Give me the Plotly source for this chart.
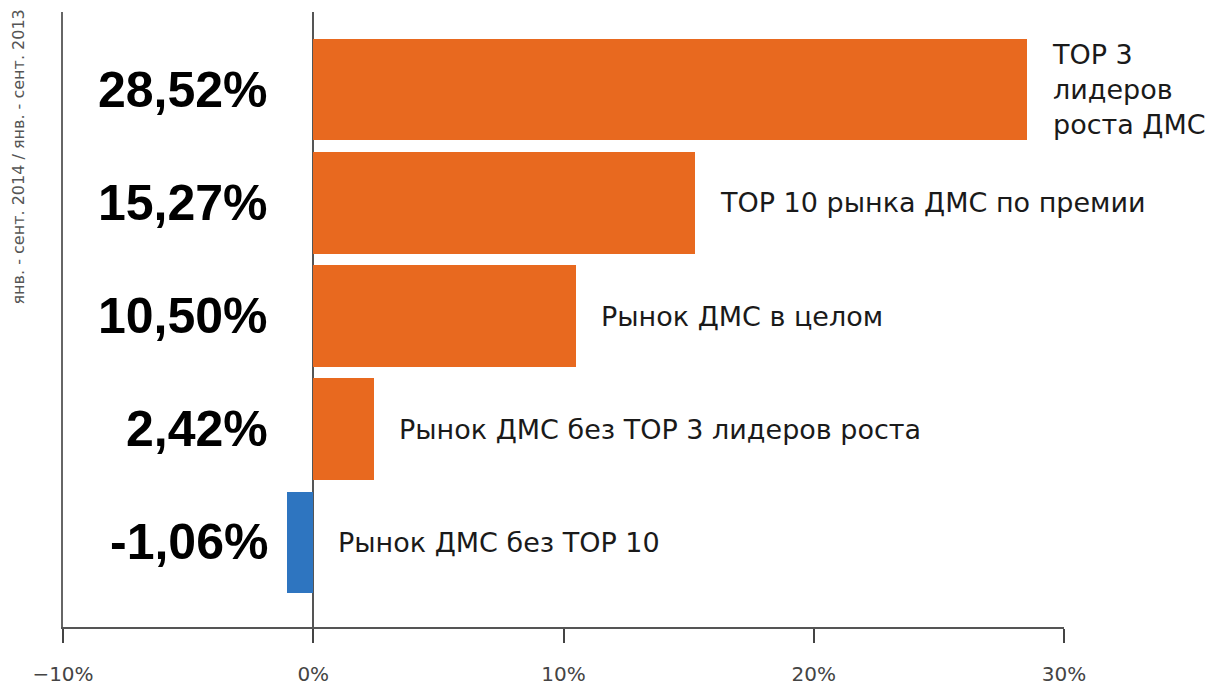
import plotly.graph_objects as go

categories = ["TOP 3<br>лидеров<br>роста ДМС", "ТОР 10 рынка ДМС по премии", "Рынок ДМС в целом",
              "Рынок ДМС без TOP 3 лидеров роста", "Рынок ДМС без TOP 10"]
values = [28.52, 15.27, 10.50, 2.42, -1.06]
value_labels = ["28,52%", "15,27%", "10,50%", "2,42%", "-1,06%"]
tick_vals = [-10, 0, 10, 20, 30]
tick_text = ["\u221210%", "0%", "10%", "20%", "30%"]
y_title = "янв. - сент. 2014 / янв. - сент. 2013"

ORANGE = "#E8691F"
BLUE = "#2E75C0"

n = len(values)
ypos = [n - 1 - i for i in range(n)]
colors = [ORANGE if v >= 0 else BLUE for v in values]

fig = go.Figure()
fig.add_trace(go.Bar(
    x=values, y=ypos, orientation="h", width=0.894,
    marker=dict(color=colors, line=dict(width=0)),
    hoverinfo="skip", showlegend=False,
))

BOLD_FONT = "Liberation Sans, Arial, sans-serif"
WIDE_FONT = "DejaVu Sans, sans-serif"
for yp, v, lab, cat in zip(ypos, values, value_labels, categories):
    fig.add_annotation(x=0, y=yp, xref="x", yref="y", text="<b>" + lab + "</b>", showarrow=False,
                       xanchor="right", xshift=-43,
                       font=dict(family=BOLD_FONT, size=50, color="#000000"))
    fig.add_annotation(x=max(v, 0), y=yp, xref="x", yref="y", text=cat, showarrow=False,
                       xanchor="left", xshift=23, align="left",
                       font=dict(family=WIDE_FONT, size=27, color="#1a1a1a"))

L, R, T, B = 63, 148, 12, 58
W, H = 1212, 685
fig.add_annotation(xref="paper", yref="paper",
                   x=(18 - L) / (W - L - R), y=1 + (T - 8) / (H - T - B),
                   xanchor="center", yanchor="top",
                   text=y_title, showarrow=False, textangle=-90,
                   font=dict(family=WIDE_FONT, size=16, color="#555555"))

fig.update_layout(
    width=W, height=H,
    margin=dict(l=L, r=R, t=T, b=B),
    paper_bgcolor="white", plot_bgcolor="white",
    bargap=0,
)
fig.update_xaxes(
    range=[-10, 30], tickvals=tick_vals, ticktext=tick_text, automargin=False,
    showgrid=False, zeroline=True, zerolinecolor="#555555", zerolinewidth=2,
    showline=True, linecolor="#555555", linewidth=2,
    ticks="outside", ticklen=14, tickwidth=2, tickcolor="#444444",
    ticklabelstandoff=14,
    tickfont=dict(family=WIDE_FONT, size=20, color="#444444"),
)
fig.update_yaxes(
    range=[-0.752, 4.69], showticklabels=False, showgrid=False, zeroline=False,
    automargin=False,
    showline=True, linecolor="#666666", linewidth=2,
)
fig.write_html("out.html")
